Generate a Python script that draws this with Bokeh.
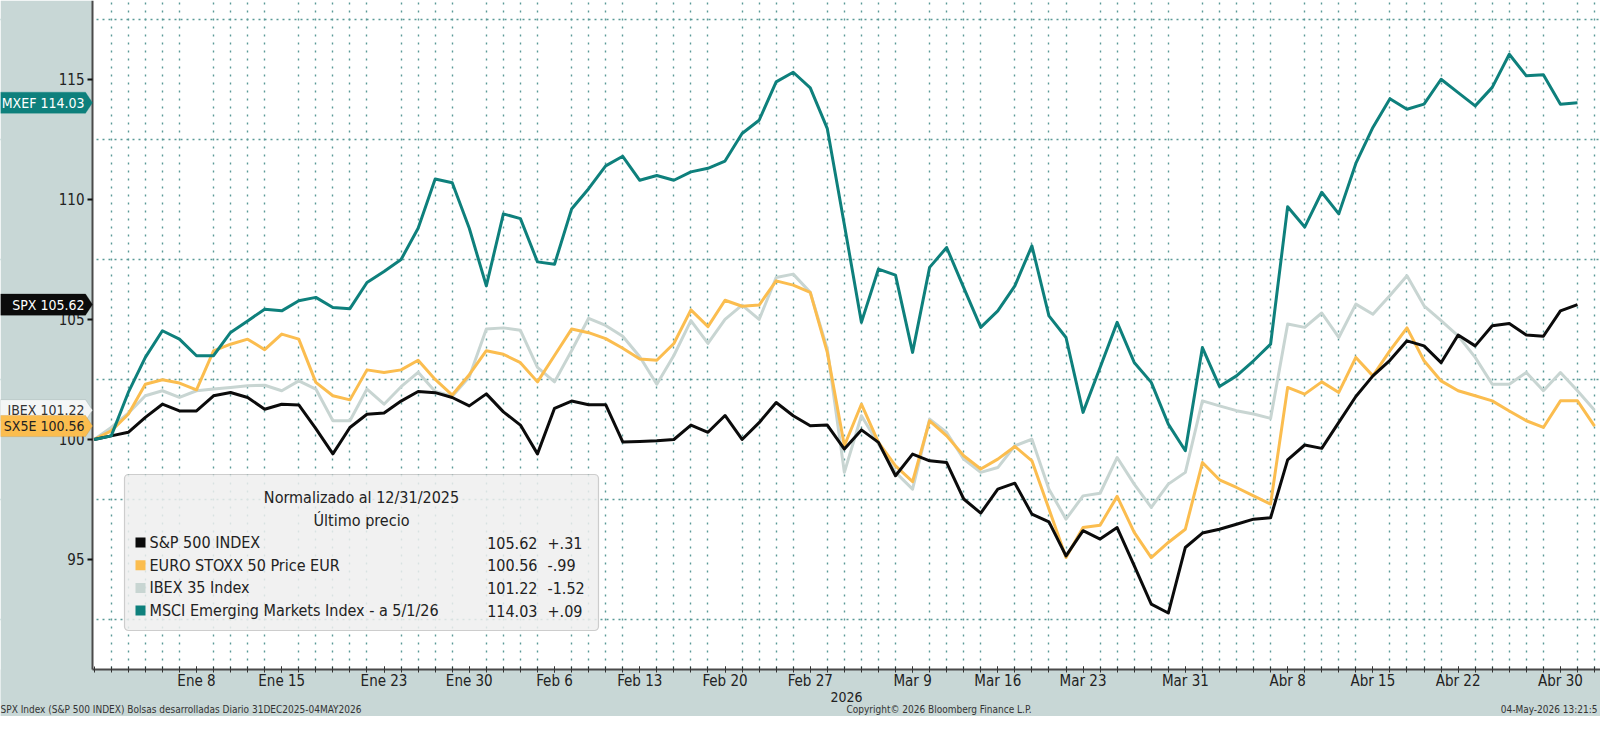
import pandas as pd
from bokeh.plotting import figure
from bokeh.models import FixedTicker, Label, BoxAnnotation, PolyAnnotation, Range1d
from bokeh.embed import file_html
from bokeh.resources import INLINE

# ---------------- data ----------------
dates = pd.bdate_range("2025-12-31", "2026-05-04")   # trading-day axis (89 days)

spx = [100.0, 100.15, 100.3, 100.92, 101.47, 101.19, 101.19, 101.82, 101.96, 101.75,
       101.26, 101.47, 101.44, 100.45, 99.4, 100.5, 101.05, 101.1, 101.6, 102.0,
       101.95, 101.75, 101.4, 101.9, 101.15, 100.6, 99.4, 101.3, 101.6, 101.45,
       101.45, 99.9, 99.92, 99.95, 100.0, 100.6, 100.3, 101.0, 100.0, 100.7,
       101.54, 100.99, 100.57, 100.6, 99.6, 100.4, 99.88, 98.49, 99.39, 99.11,
       99.04, 97.52, 96.93, 97.93, 98.18, 96.89, 96.57, 95.15, 96.2, 95.85,
       96.33, 94.74, 93.14, 92.77, 95.5, 96.1, 96.26, 96.47, 96.68, 96.74,
       99.15, 99.77, 99.63, 100.71, 101.79, 102.65, 103.3, 104.11, 103.9, 103.2,
       104.35, 103.9, 104.74, 104.83, 104.35, 104.3, 105.36, 105.62]

sx5e = [100.0, 100.36, 101.05, 102.3, 102.49, 102.35, 102.07, 103.69, 103.97, 104.18,
        103.74, 104.39, 104.18, 102.38, 101.82, 101.65, 102.9, 102.79, 102.9, 103.3,
        102.5, 101.85, 102.7, 103.7, 103.55, 103.2, 102.4, 103.5, 104.6, 104.45,
        104.2, 103.8, 103.35, 103.3, 104.0, 105.4, 104.7, 105.8, 105.55, 105.6,
        106.61, 106.43, 106.13, 103.63, 99.74, 101.47, 99.88, 98.9, 98.24, 100.78,
        100.15, 99.32, 98.77, 99.18, 99.71, 99.11, 97.1, 95.08, 96.33, 96.43,
        97.63, 96.13, 95.08, 95.71, 96.26, 99.04, 98.32, 98.0, 97.65, 97.31,
        102.17, 101.89, 102.4, 101.96, 103.42, 102.65, 103.7, 104.65, 103.28, 102.44,
        102.03, 101.82, 101.61, 101.19, 100.78, 100.5, 101.61, 101.61, 100.56]

ibex = [100.0, 100.5, 101.1, 101.82, 102.03, 101.75, 102.03, 102.1, 102.17, 102.24,
        102.26, 102.03, 102.44, 102.1, 100.78, 100.78, 102.1, 101.47, 102.2, 102.8,
        102.0, 101.8, 102.6, 104.6, 104.65, 104.55, 103.0, 102.4, 103.7, 105.05,
        104.75, 104.3, 103.45, 102.3, 103.5, 104.95, 104.0, 105.0, 105.6, 105.0,
        106.75, 106.89, 106.13, 103.77, 98.63, 100.99, 99.81, 98.63, 97.93, 100.85,
        100.29, 99.18, 98.63, 98.83, 99.74, 100.01, 97.93, 96.68, 97.65, 97.76,
        99.25, 98.14, 97.17, 98.14, 98.63, 101.61, 101.4, 101.2, 101.06, 100.88,
        104.81, 104.67, 105.27, 104.25, 105.64, 105.22, 106.0, 106.82, 105.57, 104.95,
        104.32, 103.42, 102.3, 102.3, 102.79, 102.03, 102.79, 102.03, 101.22]

mxef = [100.0, 100.15, 101.96, 103.42, 104.53, 104.18, 103.49, 103.49, 104.46, 104.94,
        105.43, 105.36, 105.78, 105.92, 105.5, 105.45, 106.54, 107.0, 107.5, 108.8,
        110.85, 110.7, 108.8, 106.4, 109.4, 109.2, 107.4, 107.3, 109.6, 110.45,
        111.4, 111.8, 110.8, 111.0, 110.8, 111.15, 111.3, 111.6, 112.75, 113.3,
        114.9, 115.3, 114.65, 112.95, 108.95, 104.88, 107.1, 106.85, 103.63, 107.17,
        108.0, 106.33, 104.67, 105.36, 106.4, 108.07, 105.15, 104.25, 101.13, 103.0,
        104.88, 103.21, 102.38, 100.64, 99.53, 103.83, 102.21, 102.65, 103.28, 103.97,
        109.7, 108.85, 110.3, 109.4, 111.5, 113.0, 114.2, 113.76, 113.97, 115.01,
        114.45, 113.9, 114.67, 116.05, 115.15, 115.2, 113.97, 114.03]

tick_dates = ["2026-01-08", "2026-01-15", "2026-01-23", "2026-01-30", "2026-02-06",
              "2026-02-13", "2026-02-20", "2026-02-27", "2026-03-09", "2026-03-16",
              "2026-03-23", "2026-03-31", "2026-04-08", "2026-04-15", "2026-04-22",
              "2026-04-30"]
tick_labels = ["Ene 8", "Ene 15", "Ene 23", "Ene 30", "Feb 6", "Feb 13", "Feb 20",
               "Feb 27", "Mar 9", "Mar 16", "Mar 23", "Mar 31", "Abr 8", "Abr 15",
               "Abr 22", "Abr 30"]
y_ticks = [95, 100, 105, 110, 115]
y_grid = [92.5, 97.5, 102.5, 107.5, 112.5, 117.5]

series_names = ["S&P 500 INDEX", "EURO STOXX 50 Price EUR", "IBEX 35 Index",
                "MSCI Emerging Markets Index -  a 5/1/26"]
series_short = ["SPX", "SX5E", "IBEX", "MXEF"]
series_change = ["+.31", "-.99", "-1.52", "+.09"]

# ---------------- styling ----------------
FONT = "DejaVu Sans Condensed, Liberation Sans Narrow, sans-serif"
PANEL = "#c8d7d6"
GRID = "#5a9a97"
C_SPX, C_SX5E, C_IBEX, C_MXEF = "#0b0b0b", "#fbbd4f", "#c8d5d2", "#0e807c"
TXT = "#222222"
W, H = 1600, 716

# plot extents (data units): left edge of the chart area and the axis baseline
X_LEFT, X_RIGHT = -0.1, 88.35
Y_BASE, Y_TOP = 90.417, 118.29

x_pos = list(range(len(dates)))
date_index = {d.strftime("%Y-%m-%d"): i for i, d in enumerate(dates)}
tick_idx = [date_index[d] for d in tick_dates]

# frame covers the whole canvas; axes are drawn at fixed locations inside it
p = figure(width=W, height=H, output_backend="svg", toolbar_location=None,
           x_range=Range1d(-5.4956, X_RIGHT), y_range=Range1d(88.458, Y_TOP),
           min_border=0, min_border_left=0, min_border_right=0,
           min_border_top=0, min_border_bottom=0,
           background_fill_color="white", border_fill_color=PANEL)
p.outline_line_color = None

# grey side panels (left strip, bottom strip)
p.add_layout(BoxAnnotation(right=X_LEFT, fill_color=PANEL, fill_alpha=1.0,
                           line_color=None, level="glyph"))
p.add_layout(BoxAnnotation(top=Y_BASE, fill_color=PANEL, fill_alpha=1.0,
                           line_color=None, level="glyph"))

# grids
p.ygrid.ticker = FixedTicker(ticks=y_grid)
p.ygrid.grid_line_color = GRID
p.ygrid.grid_line_dash = "2 4"
p.ygrid.grid_line_width = 1.4
p.xgrid.ticker = FixedTicker(ticks=[i for i in x_pos[1:] if i not in tick_idx])
p.xgrid.grid_line_color = GRID
p.xgrid.grid_line_dash = "2 6"
p.xgrid.grid_line_width = 1.4

# y axis
p.yaxis.fixed_location = X_LEFT
p.yaxis.bounds = (Y_BASE, Y_TOP)
p.yaxis.ticker = FixedTicker(ticks=y_ticks, minor_ticks=[])
p.yaxis.axis_line_color = "#4a4a4a"
p.yaxis.axis_line_width = 2
p.yaxis.major_tick_line_color = "#111111"
p.yaxis.major_tick_line_width = 2
p.yaxis.major_tick_in = 0
p.yaxis.major_tick_out = 5
p.yaxis.major_label_standoff = 3
p.yaxis.major_label_text_font = FONT
p.yaxis.major_label_text_font_size = "15px"
p.yaxis.major_label_text_color = TXT

# x axis
p.xaxis.fixed_location = Y_BASE
p.xaxis.bounds = (X_LEFT, 89.3)
p.xaxis.ticker = FixedTicker(ticks=tick_idx, minor_ticks=x_pos)
p.xaxis.major_label_overrides = {i: lab for i, lab in zip(tick_idx, tick_labels)}
p.xaxis.axis_line_color = "#4a4a4a"
p.xaxis.axis_line_width = 2
p.xaxis.major_tick_line_color = "#333333"
p.xaxis.minor_tick_line_color = "#333333"
p.xaxis.major_tick_in = 3
p.xaxis.major_tick_out = 3
p.xaxis.minor_tick_in = 3
p.xaxis.minor_tick_out = 3
p.xaxis.major_label_standoff = 0
p.xaxis.major_label_text_font = FONT
p.xaxis.major_label_text_font_size = "15px"
p.xaxis.major_label_text_color = TXT
p.xaxis.axis_label = "2026"
p.xaxis.axis_label_text_font = FONT
p.xaxis.axis_label_text_font_size = "14px"
p.xaxis.axis_label_text_font_style = "normal"
p.xaxis.axis_label_text_color = TXT
p.xaxis.axis_label_standoff = -2

# lines
p.line(x_pos[:len(ibex)], ibex, line_color=C_IBEX, line_width=3, line_join="round")
p.line(x_pos[:len(sx5e)], sx5e, line_color=C_SX5E, line_width=3, line_join="round")
p.line(x_pos[:len(spx)], spx, line_color=C_SPX, line_width=3, line_join="round")
p.line(x_pos[:len(mxef)], mxef, line_color=C_MXEF, line_width=3, line_join="round")

# last-value tags on the left panel
half = 0.44  # half tag height in data units (~21 px)
tags = [
    (series_short[3], mxef[-1], C_MXEF, C_MXEF, "white"),
    (series_short[0], spx[-1], C_SPX, C_SPX, "white"),
    (series_short[2], ibex[-1], "#f4f6f6", "#8b9b9a", "#333333"),
    (series_short[1], sx5e[-1], C_SX5E, "#c89236", "#222222"),
]
for name, v, fill, border, tcol in tags:
    p.add_layout(PolyAnnotation(xs=[0, 85, 92, 85, 0], ys=[v - half, v - half, v, v + half, v + half],
                                xs_units="canvas", ys_units="data",
                                fill_color=fill, fill_alpha=1.0, line_color=border, line_width=1))
    p.add_layout(Label(x=84, y=v, x_units="canvas", y_units="data", text=f"{name} {v:.2f}",
                       text_align="right", text_baseline="middle", text_font=FONT,
                       text_font_size="14px", text_color=tcol))

# legend box (canvas units, measured from the top-left corner)
p.add_layout(BoxAnnotation(left=124, right=598, top=474, bottom=630,
                           left_units="canvas", right_units="canvas",
                           top_units="canvas", bottom_units="canvas",
                           fill_color="#eeeeee", fill_alpha=0.85,
                           line_color="#6a6a6a", line_width=1.2, border_radius=4))
for txt, yy in [("Normalizado al 12/31/2025", 497), ("Último precio", 520)]:
    p.add_layout(Label(x=361, y=yy, x_units="canvas", y_units="canvas", text=txt,
                       text_align="center", text_baseline="middle", text_font=FONT,
                       text_font_size="16px", text_color=TXT))
last_vals = [spx[-1], sx5e[-1], ibex[-1], mxef[-1]]
colors = [C_SPX, C_SX5E, C_IBEX, C_MXEF]
for k, (nm, lv, ch, col) in enumerate(zip(series_names, last_vals, series_change, colors)):
    yy = 542 + k * 22.7
    p.add_layout(BoxAnnotation(left=135, right=145, top=yy - 5, bottom=yy + 5,
                               left_units="canvas", right_units="canvas",
                               top_units="canvas", bottom_units="canvas",
                               fill_color=col, fill_alpha=1.0, line_color=None))
    p.add_layout(Label(x=149, y=yy, x_units="canvas", y_units="canvas", text=nm,
                       text_baseline="middle", text_font=FONT, text_font_size="16px",
                       text_color=TXT))
    p.add_layout(Label(x=537, y=yy, x_units="canvas", y_units="canvas", text=f"{lv:.2f}",
                       text_align="right", text_baseline="middle", text_font=FONT,
                       text_font_size="16px", text_color=TXT))
    p.add_layout(Label(x=547, y=yy, x_units="canvas", y_units="canvas", text=ch,
                       text_baseline="middle", text_font=FONT, text_font_size="16px",
                       text_color=TXT))

# footer
footer = [("SPX Index (S&P 500 INDEX) Bolsas desarrolladas Diario 31DEC2025-04MAY2026", 0, "left"),
          ("Copyright© 2026 Bloomberg Finance L.P.", 846, "left"),
          ("04-May-2026 13:21:5", 1597, "right")]
for txt, xx, al in footer:
    p.add_layout(Label(x=xx, y=709, x_units="canvas", y_units="canvas", text=txt,
                       text_align=al, text_baseline="middle", text_font=FONT,
                       text_font_size="10px", text_color="#333333"))

open("out.html", "w").write(file_html(p, INLINE))
